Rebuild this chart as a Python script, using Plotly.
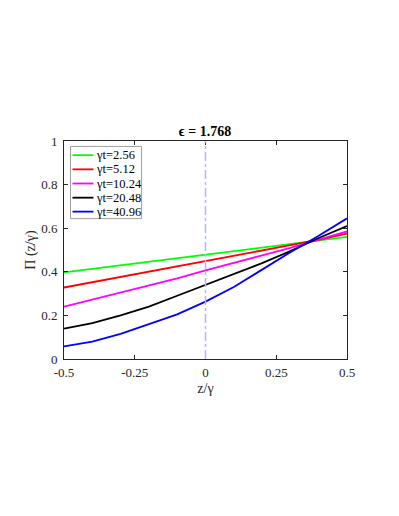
import plotly.graph_objects as go

# data
z = [-0.5, -0.4, -0.3, -0.2, -0.1, 0.0, 0.1, 0.2, 0.3, 0.4, 0.5]
pi_256 = [0.397, 0.413, 0.429, 0.445, 0.461, 0.477, 0.493, 0.509, 0.525, 0.543, 0.560]
pi_512 = [0.328, 0.352, 0.376, 0.400, 0.424, 0.447, 0.472, 0.497, 0.522, 0.547, 0.575]
pi_1024 = [0.240, 0.272, 0.303, 0.337, 0.370, 0.406, 0.440, 0.475, 0.510, 0.548, 0.585]
pi_2048 = [0.139, 0.165, 0.200, 0.240, 0.290, 0.340, 0.390, 0.440, 0.495, 0.555, 0.610]
pi_4096 = [0.058, 0.080, 0.115, 0.160, 0.205, 0.263, 0.330, 0.410, 0.490, 0.565, 0.645]

labels = ['γt=2.56', 'γt=5.12', 'γt=10.24', 'γt=20.48', 'γt=40.96']
colors = ['#00ff00', '#ff0000', '#ff00ff', '#000000', '#0000ff']
x_ticks = [-0.5, -0.25, 0, 0.25, 0.5]
x_ticktext = ['-0.5', '-0.25', '0', '0.25', '0.5']
y_ticks = [0, 0.2, 0.4, 0.6, 0.8, 1]
y_ticktext = ['0', '0.2', '0.4', '0.6', '0.8', '1']

font = 'Liberation Serif, Times New Roman, serif'
axis_col = '#262626'

fig = go.Figure()
for ys, name, col in zip([pi_256, pi_512, pi_1024, pi_2048, pi_4096], labels, colors):
    fig.add_scatter(x=z, y=ys, mode='lines', name=name, showlegend=False,
                    line=dict(color=col, width=1.8))

fig.add_vline(x=0, line=dict(color='#b4b4ff', width=1.5, dash='dashdot'))

# legend drawn by hand (MATLAB-style compact rows)
fig.add_shape(type='rect', xref='paper', yref='paper', x0=0.023, x1=0.274, y0=0.644, y1=0.975,
              line=dict(color='#a0a0a0', width=1), fillcolor='white', layer='above')
row_y = [0.935, 0.870, 0.805, 0.740, 0.676]
for ry, name, col in zip(row_y, labels, colors):
    fig.add_shape(type='line', xref='paper', yref='paper', x0=0.030, x1=0.104, y0=ry, y1=ry,
                  line=dict(color=col, width=1.8), layer='above')
    fig.add_annotation(xref='paper', yref='paper', x=0.107, y=ry, text=name, showarrow=False,
                       xanchor='left', yanchor='middle',
                       font=dict(family=font, size=12.5, color='#000000'))

axis = dict(showgrid=False, zeroline=False, showline=True, mirror='ticks',
            linecolor=axis_col, linewidth=1, ticks='inside', ticklen=4,
            tickcolor=axis_col, tickfont=dict(family=font, size=13, color=axis_col))

fig.update_layout(
    width=399, height=516,
    margin=dict(l=56, r=60, t=133, b=165),
    paper_bgcolor='white', plot_bgcolor='white',
    font=dict(family=font, color=axis_col),
    title=dict(text='<b>ϵ = 1.768</b>', x=(205 - 8) / 399, xanchor='center',
               y=1 - 123 / 516, yanchor='middle',
               font=dict(family=font, size=14, color='#000000')),
    xaxis=dict(axis, range=[-0.5, 0.5], tickvals=x_ticks, ticktext=x_ticktext,
               ticklabelstandoff=1,
               title=dict(text='z/γ', font=dict(family=font, size=14, color=axis_col),
                          standoff=4)),
    yaxis=dict(axis, range=[0, 1], tickvals=y_ticks, ticktext=y_ticktext,
               ticklabelstandoff=3,
               title=dict(text='Π (z/γ)', font=dict(family=font, size=14, color=axis_col),
                          standoff=2)),
    showlegend=False,
)

fig.write_html('out.html')
